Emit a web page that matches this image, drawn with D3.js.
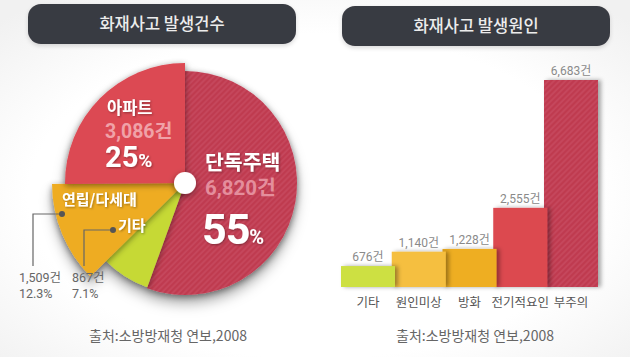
<!DOCTYPE html>
<html><head><meta charset="utf-8">
<script src="https://cdn.jsdelivr.net/npm/d3@7"></script>
<style>
html,body{margin:0;padding:0;background:#fff;}
svg{display:block;font-family:"Noto Sans CJK KR","Noto Sans",sans-serif;}
</style></head>
<body><svg id="c" width="630" height="357"></svg>
<script>
// ---- data ----
const titles = ["화재사고 발생건수", "화재사고 발생원인"];
const sourceText = "출처:소방방재청 연보,2008";
const pieLabels = ["단독주택", "기타", "연립/다세대", "아파트"];
const pieCounts = [6820, 867, 1509, 3086];
const piePercents = ["55", "7.1", "12.3", "25"];
const barCategories = ["기타", "원인미상", "방화", "전기적요인", "부주의"];
const barValues = [676, 1140, 1228, 2555, 6683];

const fmt = d3.format(",");
const svg = d3.select("#c");
const defs = svg.append("defs");
const NUMFONT = "Roboto, 'Noto Sans CJK KR', sans-serif";

// background glow
const bg = defs.append("radialGradient").attr("id","bg").attr("cx","50%").attr("cy","55%").attr("r","70%");
bg.append("stop").attr("offset","65%").attr("stop-color","#ffffff");
bg.append("stop").attr("offset","100%").attr("stop-color","#f1f1f1");
svg.append("rect").attr("width",630).attr("height",357).attr("fill","url(#bg)");

// stripe pattern
const pat = defs.append("pattern").attr("id","stripe").attr("width",4).attr("height",4)
  .attr("patternUnits","userSpaceOnUse").attr("patternTransform","rotate(45)");
pat.append("rect").attr("width",4).attr("height",4).attr("fill","#bf3a50");
pat.append("line").attr("x1",1).attr("y1",0).attr("x2",1).attr("y2",4)
  .attr("stroke","#ca4f63").attr("stroke-width",1.1);

function shadow(id, dx, dy, blur, op){
  const f = defs.append("filter").attr("id",id).attr("x","-30%").attr("y","-30%").attr("width","160%").attr("height","160%");
  f.append("feDropShadow").attr("dx",dx).attr("dy",dy).attr("stdDeviation",blur)
    .attr("flood-color","#000").attr("flood-opacity",op);
}
shadow("sh", 0, 2, 3, 0.45);
shadow("pieSh", 0, 8, 6, 0.3);
shadow("barSh", 3, 0, 2, 0.35);
shadow("txt", 1, 1, 1, 0.35);
shadow("pill", 0, 2, 2, 0.15);

// title pills
const pills = [{x:28,y:4,w:268,h:40},{x:342,y:6,w:268,h:40}];
pills.forEach((p,i)=>{
  svg.append("rect").attr("x",p.x).attr("y",p.y).attr("width",p.w).attr("height",p.h)
    .attr("rx",13).attr("fill","#393a42").attr("filter","url(#pill)");
  svg.append("text").attr("x",p.x+p.w/2).attr("y",p.y+p.h/2+6).attr("text-anchor","middle")
    .attr("font-size",16.5).attr("font-weight",500).attr("fill","#ececec").text(titles[i]);
});

// ---- pie ----
const cx = 185, cy = 183;
const radii = [112, 111, 133, 120];
const fills = ["url(#stripe)", "#c6d934", "#eeac22", "#dc4852"];
const pie = d3.pie().sort(null).value(d=>d)(pieCounts);
const pg = svg.append("g").attr("transform",`translate(${cx},${cy})`).attr("filter","url(#pieSh)");
pie.forEach((a,i)=>{
  pg.append("path").attr("d", d3.arc().innerRadius(0).outerRadius(radii[i])(a))
    .attr("fill", fills[i]).attr("filter","url(#sh)");
});
pg.append("circle").attr("r",11).attr("fill","#fff").attr("filter","url(#sh)");

// pie labels
function lbl(x,y,size,txt,fill){
  return svg.append("text").attr("x",x).attr("y",y).attr("font-size",size).attr("font-weight",700)
    .attr("fill",fill||"#fff").text(txt);
}
lbl(107,114,16.5,pieLabels[3]).attr("filter","url(#txt)");
lbl(105,138,19.5,fmt(pieCounts[3])+"건","#f0a2a8").attr("font-family",NUMFONT);
const p25 = lbl(105,167,29,piePercents[3]).attr("font-family",NUMFONT).attr("filter","url(#txt)");
p25.append("tspan").attr("font-size",19).text("%");
lbl(205,170,20.5,pieLabels[0]).attr("filter","url(#txt)");
lbl(205,195,20.5,fmt(pieCounts[0])+"건","#e48e9c").attr("font-family",NUMFONT);
const p55 = lbl(202,244,43,piePercents[0]).attr("font-family",NUMFONT).attr("letter-spacing",-1).attr("filter","url(#txt)");
p55.append("tspan").attr("font-size",20).attr("letter-spacing",0).text("%");
lbl(62,205,15,pieLabels[2]).attr("filter","url(#txt)");
lbl(118,231,15,pieLabels[1]).attr("filter","url(#txt)");

// callouts
const callouts = [
  {dot:[62,214], corner:33, idx:2, tx:19},
  {dot:[113,230], corner:84, idx:1, tx:72}
];
callouts.forEach(c=>{
  svg.append("path").attr("d",`M${c.dot[0]},${c.dot[1]}H${c.corner}V266`)
    .attr("fill","none").attr("stroke","#666").attr("stroke-width",1.2);
  svg.append("circle").attr("cx",c.dot[0]).attr("cy",c.dot[1]).attr("r",3).attr("fill","#555");
  svg.append("text").attr("x",c.tx).attr("y",282).attr("font-size",12.5).attr("fill","#666")
    .attr("font-family",NUMFONT).text(fmt(pieCounts[c.idx])+"건");
  svg.append("text").attr("x",c.tx).attr("y",298).attr("font-size",12.5).attr("fill","#666")
    .attr("font-family",NUMFONT).text(piePercents[c.idx]+"%");
});

// ---- bars ----
const barColors = ["#cde043", "#f5bf40", "#eeae21", "#dc4850", "url(#stripe)"];
const x = d3.scalePoint().domain(barCategories).range([368, 571]);
const y = d3.scaleLinear().domain([0, d3.max(barValues)]).range([287, 80]);
const bw = 54;
const bars = barCategories.map((c,i)=>({c, v:barValues[i], i})).reverse();
const bgp = svg.append("g");
bgp.selectAll("rect").data(bars).join("rect")
  .attr("x",d=>x(d.c)-bw/2).attr("y",d=>y(d.v)).attr("width",bw).attr("height",d=>y(0)-y(d.v))
  .attr("fill",d=>barColors[d.i]).attr("filter","url(#barSh)");
svg.selectAll("text.val").data(bars).join("text").attr("class","val")
  .attr("x",d=>x(d.c)).attr("y",d=>y(d.v)-5).attr("text-anchor","middle")
  .attr("font-size",12).attr("fill","#8a8a8a").attr("font-family",NUMFONT).text(d=>fmt(d.v)+"건");
svg.selectAll("text.cat").data(barCategories).join("text").attr("class","cat")
  .attr("x",d=>x(d)).attr("y",307).attr("text-anchor","middle")
  .attr("font-size",12.5).attr("fill","#555").text(d=>d);

// source
[168, 475].forEach(sx=>{
  svg.append("text").attr("x",sx).attr("y",341).attr("text-anchor","middle")
    .attr("font-size",14).attr("fill","#666").text(sourceText);
});
</script></body></html>
